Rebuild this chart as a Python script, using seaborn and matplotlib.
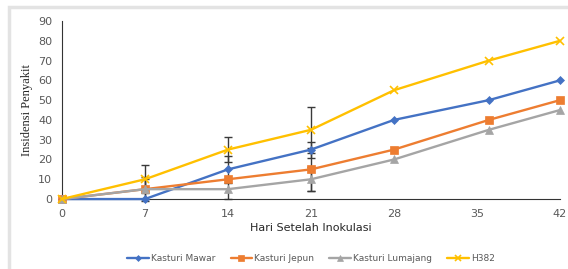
import pandas as pd
import matplotlib.pyplot as plt
import seaborn as sns
from matplotlib.patches import Rectangle

# data
hari = [0, 7, 14, 21, 28, 36, 42]
mawar = [0, 0, 15, 25, 40, 50, 60]
jepun = [0, 5, 10, 15, 25, 40, 50]
lumajang = [0, 5, 5, 10, 20, 35, 45]
h382 = [0, 10, 25, 35, 55, 70, 80]

# error bars (only some points have them)
err_mawar = [0, 0, 7, 4, 0, 0, 0]
err_jepun = [0, 6, 0, 11, 0, 0, 0]
err_lumajang = [0, 5, 5, 6, 0, 0, 0]
err_h382 = [0, 7, 6.5, 11.5, 0, 0, 0]

names = ['Kasturi Mawar', 'Kasturi Jepun', 'Kasturi Lumajang', 'H382']
colors = ['#4472C4', '#ED7D31', '#A5A5A5', '#FFC000']
markers = ['D', 's', '^', 'x']
sizes = [4, 5.5, 5.5, 6]
series = [mawar, jepun, lumajang, h382]
errors = [err_mawar, err_jepun, err_lumajang, err_h382]

sns.set_style('white')
fig = plt.figure(figsize=(5.68, 2.69), dpi=100)
ax = fig.add_axes([0.109, 0.260, 0.877, 0.662])

# light grey frame around the whole chart
fig.patches.append(Rectangle((0.015, -0.05), 1.2, 1.023, transform=fig.transFigure,
                             fill=False, edgecolor='#E3E3E3', linewidth=2.5))

# error bars first so lines sit on top
for s, e in zip(series, errors):
    xs = [x for x, v in zip(hari, e) if v > 0]
    ys = [y for y, v in zip(s, e) if v > 0]
    es = [v for v in e if v > 0]
    ax.errorbar(xs, ys, yerr=es, fmt='none', ecolor='#3A3A3A', elinewidth=1,
                capsize=3, capthick=1, zorder=2)

for s, n, c, m, ms in zip(series, names, colors, markers, sizes):
    sns.lineplot(x=hari, y=s, label=n, color=c, marker=m, markersize=ms,
                 markeredgecolor=c, markeredgewidth=1.2 if m == 'x' else 0.5,
                 linewidth=1.7, ax=ax, zorder=3)
for ln in ax.lines:
    ln.set_clip_on(False)

ax.set_xlim(0, 42)
ax.set_ylim(0, 90)
ax.set_xticks([0, 7, 14, 21, 28, 35, 42])
ax.set_yticks(range(0, 91, 10))
ax.tick_params(axis='both', direction='inout', length=7, width=1, color='#333333',
               labelsize=8, labelcolor='#595959')
ax.tick_params(axis='x', pad=4)
sns.despine(ax=ax, top=True, right=True)
ax.spines['left'].set_color('#333333')
ax.spines['bottom'].set_color('#333333')

ax.set_xlabel('Hari Setelah Inokulasi', fontsize=8, color='#262626')
ax.xaxis.set_label_coords(0.5, -0.135)
ax.set_ylabel('Insidensi Penyakit', fontsize=9, family='Liberation Serif',
              color='#262626')
ax.yaxis.set_label_coords(-0.058, 0.5)

handles, labels = ax.get_legend_handles_labels()
leg = ax.legend(handles, labels, loc='center', bbox_to_anchor=(0.5, -0.335), ncol=4,
                frameon=False, fontsize=6.5, handlelength=2.4, columnspacing=1.7,
                handletextpad=0.2, labelcolor='#595959', markerscale=0.75)

fig.savefig('out.png', dpi=100, facecolor='white')
